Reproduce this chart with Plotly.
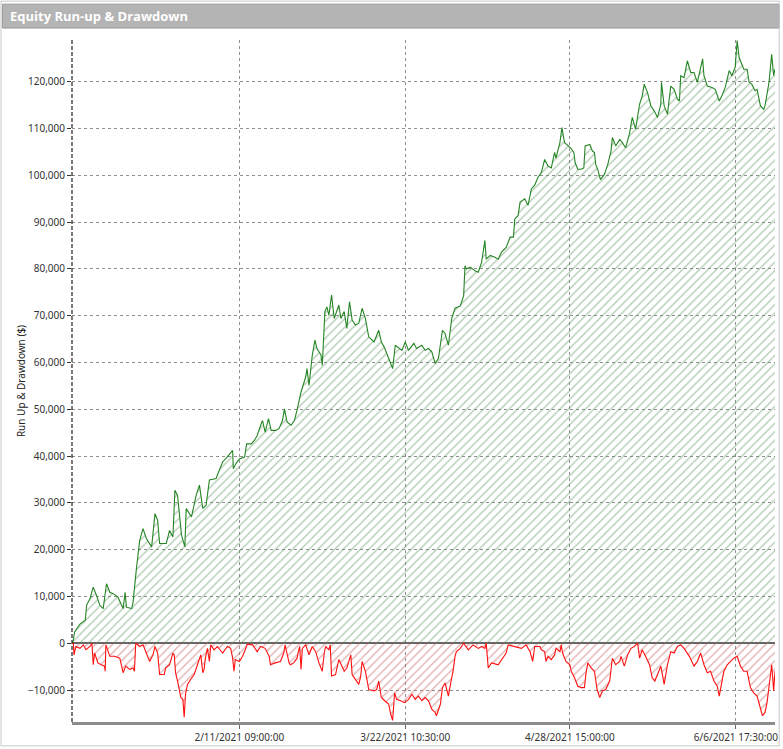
import plotly.graph_objects as go

# trade number on the x axis, dollars on the y axis
runup_trade = [0, 1, 4, 12, 20, 22, 27, 32, 37, 42, 47, 52, 57, 62, 69, 77, 80, 82, 90, 92,
               97, 102, 107, 112, 120, 125, 129, 132, 142, 147, 152, 155, 159, 165, 170, 172,
               180, 187, 192, 197, 202, 207, 217, 227, 232, 242, 243, 247, 252, 260, 263, 270,
               275, 279, 285, 287, 291, 296, 300, 307, 312, 317, 320, 324, 330, 335, 339, 345,
               352, 354, 357, 362, 366, 369, 375, 377, 381, 384, 387, 391, 395, 402, 405, 410,
               414, 418, 422, 427, 432, 437, 442, 447, 455, 462, 466, 470, 477, 483, 487, 497,
               502, 507, 515, 519, 527, 532, 537, 542, 547, 552, 558, 562, 567, 572, 577, 585,
               590, 592, 594, 600, 607, 612, 617, 622, 624, 630, 637, 642, 647, 654, 660, 665,
               667, 672, 675, 682, 687, 692, 697, 702, 707, 712, 717, 722, 727, 729, 735, 738,
               742, 747, 751, 756, 758, 762, 767, 771, 773, 780, 784, 787, 789, 792, 796, 802,
               807, 812, 814, 819, 825, 829, 834, 840, 844, 849, 855, 859, 862, 867, 872, 877,
               882, 887, 888, 892, 897, 902, 907, 912, 915, 917, 922, 927, 932, 937, 942, 950,
               952, 957, 964, 969, 975, 979, 984, 990, 994, 999, 1002, 1005, 1008, 1012, 1017,
               1020, 1024, 1029, 1032, 1037, 1042, 1044, 1050, 1052, 1054, 1057, 1059]
runup_value = [0, 0, 2400, 4100, 4900, 8100, 9500, 12000, 10200, 8100, 7400, 12700, 10900,
               10600, 9900, 7400, 10900, 7700, 7400, 8800, 15900, 22000, 24500, 22400, 20600,
               27700, 26300, 21300, 21300, 24100, 22700, 32700, 31600, 23100, 20600, 28800,
               27000, 31600, 33800, 28800, 29500, 34900, 35200, 38800, 39500, 41200, 37300,
               38400, 39400, 39800, 42600, 42600, 43400, 44400, 46900, 47600, 45100, 48000,
               45500, 45500, 45900, 47600, 50100, 47300, 46600, 47600, 49800, 53700, 56900,
               58700, 55100, 61600, 64800, 63000, 61600, 59400, 70900, 71900, 70100, 74400,
               69400, 72300, 69400, 70900, 67300, 73000, 69100, 68000, 68400, 71600, 69400,
               65500, 64400, 66900, 64400, 63400, 60900, 58700, 63700, 62600, 64400, 62600,
               64100, 63000, 63700, 62600, 63000, 62300, 59800, 60900, 66900, 66200, 63700,
               69400, 71600, 72100, 74300, 80700, 80000, 80400, 79600, 79300, 81400, 86100,
               82100, 82900, 82500, 82100, 83600, 84600, 86800, 86800, 90700, 91400, 94300,
               95000, 93600, 97100, 97900, 99600, 100600, 103400, 102000, 101600, 104900,
               103700, 107000, 110200, 107000, 106300, 105900, 104900, 102700, 101300, 101300,
               101600, 106300, 106600, 105200, 104900, 102300, 101300, 99100, 100200, 102300,
               105200, 108100, 106300, 107700, 107000, 105900, 109100, 112400, 109900, 115200,
               117000, 119500, 117700, 114900, 113800, 112400, 115200, 119900, 114900, 113100,
               119100, 118400, 116300, 115900, 121300, 120900, 124500, 122000, 122000, 119900,
               124900, 121300, 119100, 118800, 118400, 115900, 117000, 118800, 122400, 121300,
               123100, 128800, 125200, 124100, 122700, 122700, 119900, 119500, 118100, 118400,
               114900, 114100, 114900, 119900, 122700, 125900, 121300, 122700]

drawdown_trade = [0, 2, 3, 6, 12, 17, 21, 27, 30, 32, 34, 39, 44, 49, 50, 51, 57, 64, 72, 75,
                  77, 81, 87, 92, 94, 96, 102, 107, 111, 117, 122, 125, 129, 132, 139, 141,
                  147, 152, 154, 156, 159, 162, 164, 167, 169, 171, 174, 179, 184, 189, 192,
                  194, 197, 199, 201, 204, 207, 209, 214, 219, 227, 234, 239, 242, 244, 246,
                  252, 257, 261, 264, 272, 279, 284, 291, 297, 299, 306, 314, 319, 321, 327,
                  329, 334, 339, 341, 343, 345, 347, 352, 357, 362, 367, 372, 377, 380, 382,
                  387, 389, 391, 397, 402, 405, 410, 414, 420, 422, 427, 432, 435, 437, 442,
                  447, 455, 459, 462, 466, 471, 477, 480, 483, 486, 489, 495, 501, 507, 512,
                  517, 522, 527, 532, 537, 542, 547, 549, 555, 558, 562, 567, 571, 574, 577,
                  579, 585, 590, 597, 604, 612, 617, 622, 624, 627, 632, 642, 649, 654, 657,
                  667, 677, 684, 690, 694, 697, 705, 707, 712, 714, 717, 722, 727, 729, 735,
                  737, 739, 744, 750, 752, 757, 762, 767, 772, 774, 777, 782, 787, 791, 795,
                  799, 804, 810, 814, 819, 825, 827, 832, 837, 842, 847, 852, 855, 859, 864,
                  870, 874, 878, 882, 887, 892, 897, 902, 907, 912, 917, 922, 930, 937, 942,
                  947, 952, 957, 962, 967, 972, 975, 977, 982, 987, 992, 997, 1002, 1007,
                  1012, 1017, 1022, 1027, 1032, 1037, 1040, 1044, 1047, 1052, 1054, 1057, 1059]
drawdown_value = [0, 0, -2500, -700, -1100, -350, -1400, -700, 0, -4600, -2100, -4200, -4600,
                  -4900, -6000, -350, -2800, -2800, -3200, -4900, -6300, -4900, -5600, -5300,
                  -6000, 0, -700, -350, -1800, -3900, -2500, -700, -2100, -6700, -6700, -5300,
                  -4600, -2100, -2500, -6300, -8100, -9900, -11600, -12000, -15800, -10900,
                  -8800, -7700, -6700, -4600, -3200, -2500, -6300, -5600, -3200, -1100, -3900,
                  -350, -1400, -700, -2100, -700, -1100, -3200, -6000, -3500, -3900, -2800,
                  -1400, -200, -350, -1800, -700, -1100, -2800, -4600, -4200, -3900, -2100,
                  -350, -4200, -4600, -4200, -3200, -1800, -700, -5600, -1100, -350, -2500,
                  -700, -1800, -4200, -6000, -2100, -700, -1400, -350, -7000, -6700, -3500,
                  -4600, -6000, -5300, -2500, -6700, -7700, -8800, -7000, -3900, -6000, -9900,
                  -10200, -9900, -8100, -11600, -12300, -13000, -15100, -16500, -10600, -12000,
                  -12300, -12700, -12000, -10900, -12000, -11300, -12300, -11600, -12300,
                  -14100, -14800, -15500, -13000, -9500, -8500, -11300, -8100, -6000, -2800,
                  -1800, -1100, 0, -1400, -350, -1100, -700, -1100, 0, -5300, -4200, -4600,
                  -3200, -2100, -350, -700, -1100, -350, -1800, -3900, -700, -700, -1400,
                  -1800, -3900, -2800, -3500, -2500, -1100, -1800, -350, -2100, -3900, -4600,
                  -6000, -7400, -9200, -9500, -9500, -6700, -4200, -5300, -6000, -9900, -11600,
                  -10200, -9900, -8100, -3200, -4600, -3900, -2800, -4900, -2500, -1100, -700,
                  0, -3200, -1400, -2800, -4600, -7400, -8100, -6700, -4900, -8800, -4600,
                  -1800, -2100, -700, -350, -1100, -2800, -4900, -3900, -2100, -4600, -6300,
                  -6000, -8100, -9200, -11300, -9900, -6000, -4600, -3900, -3200, -2800, -4900,
                  -6000, -6000, -9500, -10600, -11300, -13700, -15500, -14800, -12700, -7000,
                  -4600, -10200, -6000]

tick_trades = [252, 502, 750, 1000]
tick_labels = ["2/11/2021 09:00:00", "3/22/2021 10:30:00", "4/28/2021 15:00:00", "6/6/2021 17:30:00"]

fig = go.Figure()

fig.add_trace(go.Scatter(
    x=runup_trade, y=runup_value, mode="lines", name="Run Up",
    line=dict(color="#258525", width=1.1),
    fill="tozeroy",
    fillpattern=dict(shape="/", fgcolor="#5a905a", bgcolor="rgba(255,255,255,0)",
                     size=6, solidity=0.2),
))
fig.add_trace(go.Scatter(
    x=drawdown_trade, y=drawdown_value, mode="lines", name="Drawdown",
    line=dict(color="#ff1010", width=1.1),
    fill="tozeroy",
    fillpattern=dict(shape="/", fgcolor="#c05555", bgcolor="rgba(255,255,255,0)",
                     size=6, solidity=0.2),
))

grid = dict(showgrid=True, gridcolor="#8f8f8f", griddash="3px,3px", gridwidth=1)

fig.update_layout(
    width=783, height=749,
    margin=dict(l=72, r=5, t=40, b=25),
    paper_bgcolor="white", plot_bgcolor="white",
    showlegend=False,
    font=dict(family="Noto Sans", size=10, color="#333"),
    xaxis=dict(range=[0, 1059], tickvals=tick_trades, ticktext=tick_labels,
               ticks="outside", ticklen=4, tickcolor="#666",
               showline=True, linecolor="#8c8c8c", linewidth=3,
               zeroline=False, tickfont=dict(size=10, color="#333"), **grid),
    yaxis=dict(range=[-16840, 128940], dtick=10000, tickformat=",",
               ticks="outside", ticklen=4, tickcolor="#333",
               showline=False, zeroline=True, zerolinecolor="#666", zerolinewidth=1.5,
               title=dict(text="Run Up & Drawdown ($)", font=dict(size=10, color="#222"), standoff=0),
               tickfont=dict(size=10, color="#333"), **grid),
    shapes=[
        # left axis drawn dashed like the original
        dict(type="line", xref="paper", yref="paper", x0=0, x1=0, y0=0, y1=1,
             line=dict(color="#222", width=1.2, dash="4px,2px")),
        # title bar
        dict(type="rect", xref="paper", yref="paper", x0=-0.099, x1=1.006, y0=1.0175, y1=1.0526,
             fillcolor="#b4b4b4", line=dict(color="#9a9a9a", width=1)),
        # outer frame
        dict(type="rect", xref="paper", yref="paper", x0=-0.101, x1=1.006, y0=-0.035, y1=1.057,
             line=dict(color="#c8c8c8", width=1)),
    ],
    annotations=[
        dict(text="<b>Equity Run-up & Drawdown</b>", xref="paper", yref="paper",
             x=-0.091, y=1.035, xanchor="left", yanchor="middle", showarrow=False,
             font=dict(family="Open Sans", size=13, color="white")),
    ],
)

fig.write_html("out.html", config={"displayModeBar": False},
               post_script="document.body.style.margin='0';")
